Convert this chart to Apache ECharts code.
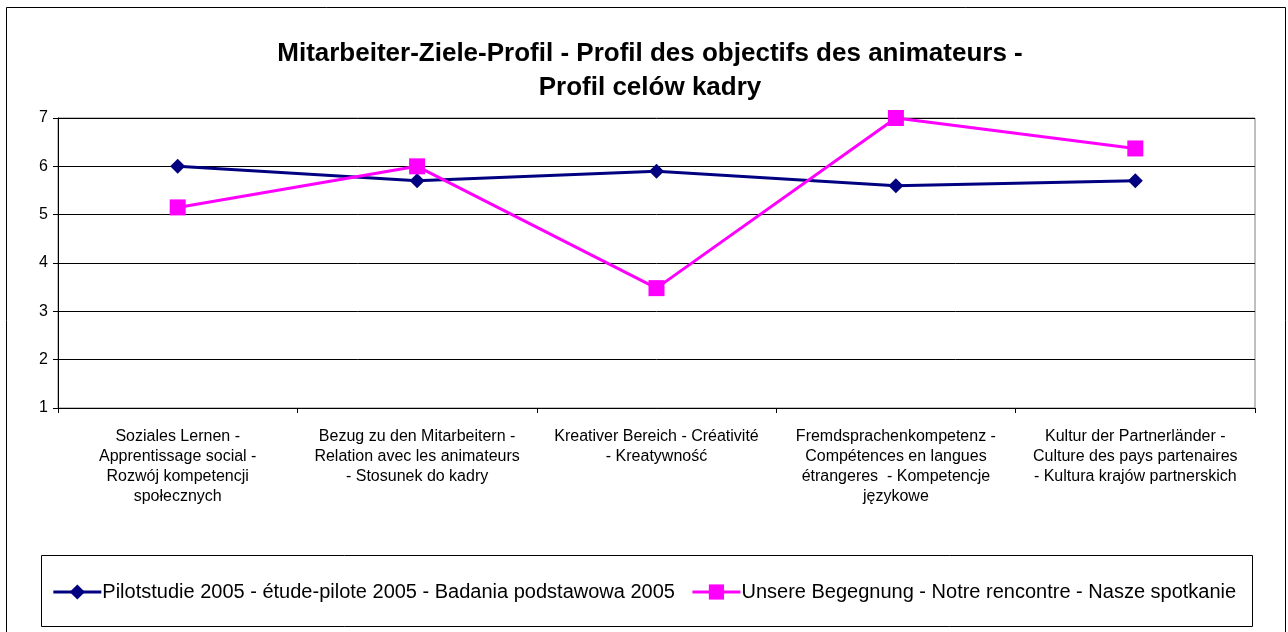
<!DOCTYPE html>
<html>
<head>
<meta charset="utf-8">
<script src="https://cdn.jsdelivr.net/npm/echarts@6/dist/echarts.min.js"></script>
<style>
  html, body { margin: 0; padding: 0; background: #fff; }
  #chart { width: 1288px; height: 632px; }
</style>
</head>
<body>
<div id="chart"></div>
<script>
// categories (line breaks as in the original)
var categories = [
    "Soziales Lernen -\nApprentissage social -\nRozwój kompetencji\nspołecznych",
    "Bezug zu den Mitarbeitern -\nRelation avec les animateurs\n- Stosunek do kadry",
    "Kreativer Bereich - Créativité\n- Kreatywność",
    "Fremdsprachenkompetenz -\nCompétences en langues\nétrangeres  - Kompetencje\njęzykowe",
    "Kultur der Partnerländer -\nCulture des pays partenaires\n- Kultura krajów partnerskich"
];
var pilotName = "Pilotstudie 2005 - étude-pilote 2005 - Badania podstawowa 2005";
var pilotValues = [6.0, 5.7, 5.9, 5.6, 5.7];
var meetingName = "Unsere Begegnung - Notre rencontre - Nasze spotkanie";
var meetingValues = [5.15, 6.0, 3.48, 7.0, 6.37];
var yTicks = [1, 2, 3, 4, 5, 6, 7];

var font = "Arial, 'Liberation Sans', sans-serif";
var chartView = echarts.init(document.getElementById("chart"), null, {renderer: "canvas"});

var option = {
    animation: false,
    backgroundColor: "#fff",
    title: {
        text: "Mitarbeiter-Ziele-Profil - Profil des objectifs des animateurs -\nProfil celów kadry",
        left: 645,
        textAlign: "center",
        top: 32,
        textStyle: {fontFamily: font, fontSize: 26, fontWeight: "bold", color: "#000", lineHeight: 34}
    },
    graphic: [
        {type: "rect", shape: {x: 6.5, y: 7.5, width: 1279, height: 640}, style: {fill: null, stroke: "#000", lineWidth: 1}, z: -1},
        {type: "rect", shape: {x: 41.5, y: 555.5, width: 1211, height: 71}, style: {fill: null, stroke: "#000", lineWidth: 1}, z: -1}
    ],
    legend: {
        top: 577,
        left: "center",
        itemWidth: 48,
        itemHeight: 19,
        itemGap: 16,
        lineStyle: {width: 3},
        textStyle: {fontFamily: font, fontSize: 20, color: "#000", padding: [0, 0, 0, -4]},
        data: [pilotName, meetingName]
    },
    grid: {
        left: 58, right: 33, top: 118, bottom: 224,
        show: true, borderColor: "#808080", borderWidth: 1
    },
    xAxis: {
        type: "category",
        data: categories,
        boundaryGap: true,
        axisLine: {lineStyle: {color: "#000", width: 1}},
        axisTick: {show: true, length: 5, lineStyle: {color: "#000"}},
        axisLabel: {interval: 0, margin: 19, fontFamily: font, fontSize: 16, color: "#000", lineHeight: 20, align: "center"},
        splitLine: {show: false}
    },
    yAxis: {
        type: "value",
        min: yTicks[0],
        max: yTicks[yTicks.length - 1],
        interval: 1,
        axisLine: {show: true, lineStyle: {color: "#000", width: 1}},
        axisTick: {show: true, length: 5, lineStyle: {color: "#000"}},
        axisLabel: {margin: 10, fontFamily: font, fontSize: 16, color: "#000"},
        splitLine: {show: true, lineStyle: {color: "#000", width: 1}}
    },
    series: [
        {
            name: pilotName,
            type: "line",
            data: pilotValues,
            symbol: "diamond",
            symbolSize: 15,
            lineStyle: {color: "#000080", width: 3},
            itemStyle: {color: "#000080"}
        },
        {
            name: meetingName,
            type: "line",
            data: meetingValues,
            symbol: "rect",
            symbolSize: 16,
            lineStyle: {color: "#FF00FF", width: 3},
            itemStyle: {color: "#FF00FF"}
        }
    ]
};
chartView.setOption(option);
</script>
</body>
</html>
